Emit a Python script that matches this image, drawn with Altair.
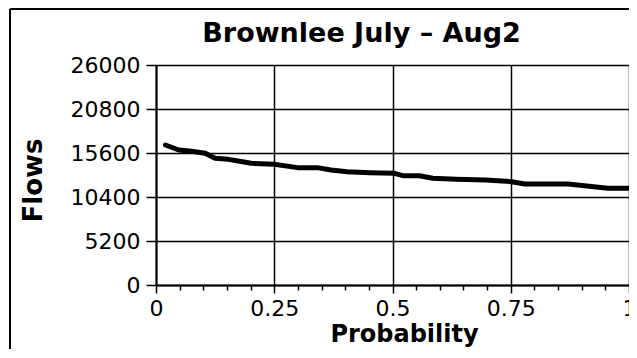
import altair as alt
import pandas as pd

# Exceedance curve
probability = [0.02, 0.048, 0.075, 0.104, 0.125, 0.153, 0.18, 0.201, 0.25, 0.299,
               0.341, 0.37, 0.404, 0.452, 0.504, 0.522, 0.557, 0.585, 0.634, 0.697,
               0.752, 0.78, 0.83, 0.871, 0.906, 0.955, 1.0]
flows = [16545, 15955, 15800, 15560, 14970, 14850, 14600, 14380, 14260, 13870,
         13870, 13600, 13390, 13270, 13200, 12920, 12920, 12610, 12490, 12410,
         12210, 11940, 11940, 11940, 11740, 11430, 11430]

# major ticks every 0.25, minor ticks every 0.05
x_ticks = [0, 0.05, 0.1, 0.15, 0.2, 0.25, 0.3, 0.35, 0.4, 0.45, 0.5, 0.55, 0.6,
           0.65, 0.7, 0.75, 0.8, 0.85, 0.9, 0.95, 1]
y_ticks = [0, 5200, 10400, 15600, 20800, 26000]

df = pd.DataFrame({"p": probability, "flow": flows})
one = pd.DataFrame({"k": [0]})

FONT = "DejaVu Sans"
MAJOR = "abs(datum.value * 4 - round(datum.value * 4)) < 0.001"
W, H = 473, 220

xaxis = alt.Axis(
    values=x_ticks, title="Probability",
    labelExpr=f"({MAJOR}) ? format(datum.value, '.2~f') : ''",
    labelFont=FONT, labelFontSize=22, labelColor="black",
    labelFlush=False, labelPadding=5, labelOverlap=False,
    tickSize={"condition": {"test": MAJOR, "value": 8}, "value": 5},
    tickColor="black", tickWidth=1.5,
    domainColor="black", domainWidth=2,
    grid=True, gridColor="black", gridWidth=1.5,
    gridOpacity={"condition": {"test": MAJOR, "value": 1}, "value": 0},
    titleFont=FONT, titleFontSize=24, titleFontWeight="bold", titleColor="black",
    titleX=248, titleY=56, titleBaseline="alphabetic", titleAlign="center",
)

yaxis = alt.Axis(
    values=y_ticks, format="d", title="Flows",
    labelFont=FONT, labelFontSize=22, labelColor="black",
    labelFlush=False, labelPadding=6, labelOverlap=False,
    tickSize=10, tickColor="black", tickWidth=1.5,
    domainColor="black", domainWidth=2,
    grid=True, gridColor="black", gridWidth=1.5, gridOpacity=1,
    titleFont=FONT, titleFontSize=26, titleFontWeight="bold", titleColor="black",
    titleX=-123, titleY=115, titleAngle=270, titleAlign="center",
    titleBaseline="middle",
)

frame_top = alt.Chart(one).mark_rule(color="black", strokeWidth=2, clip=False).encode(
    x=alt.value(-146), x2=alt.value(W), y=alt.value(-56)
)
frame_left = alt.Chart(one).mark_rule(color="black", strokeWidth=2, clip=False).encode(
    x=alt.value(-146), y=alt.value(-56), y2=alt.value(284)
)

line = alt.Chart(df).mark_line(
    color="black", strokeWidth=5, strokeCap="round", strokeJoin="round"
).encode(
    x=alt.X("p:Q", scale=alt.Scale(domain=[0, 1], nice=False, zero=False), axis=xaxis),
    y=alt.Y("flow:Q", scale=alt.Scale(domain=[0, 26000], nice=False), axis=yaxis),
)

chart = alt.layer(frame_top, frame_left, line).properties(
    width=W, height=H,
    title=alt.TitleParams(
        "Brownlee July \u2013 Aug2", font=FONT, fontSize=27, fontWeight="bold",
        color="black", anchor="middle", dx=-31, dy=71, baseline="alphabetic",
        offset=10,
    ),
    autosize=alt.AutoSizeParams(type="none"),
    padding={"left": 148, "top": 57, "right": 0, "bottom": 64},
).configure_view(stroke=None).configure(background="white")

chart.save("out.html", embed_options={"renderer": "svg", "actions": False})
